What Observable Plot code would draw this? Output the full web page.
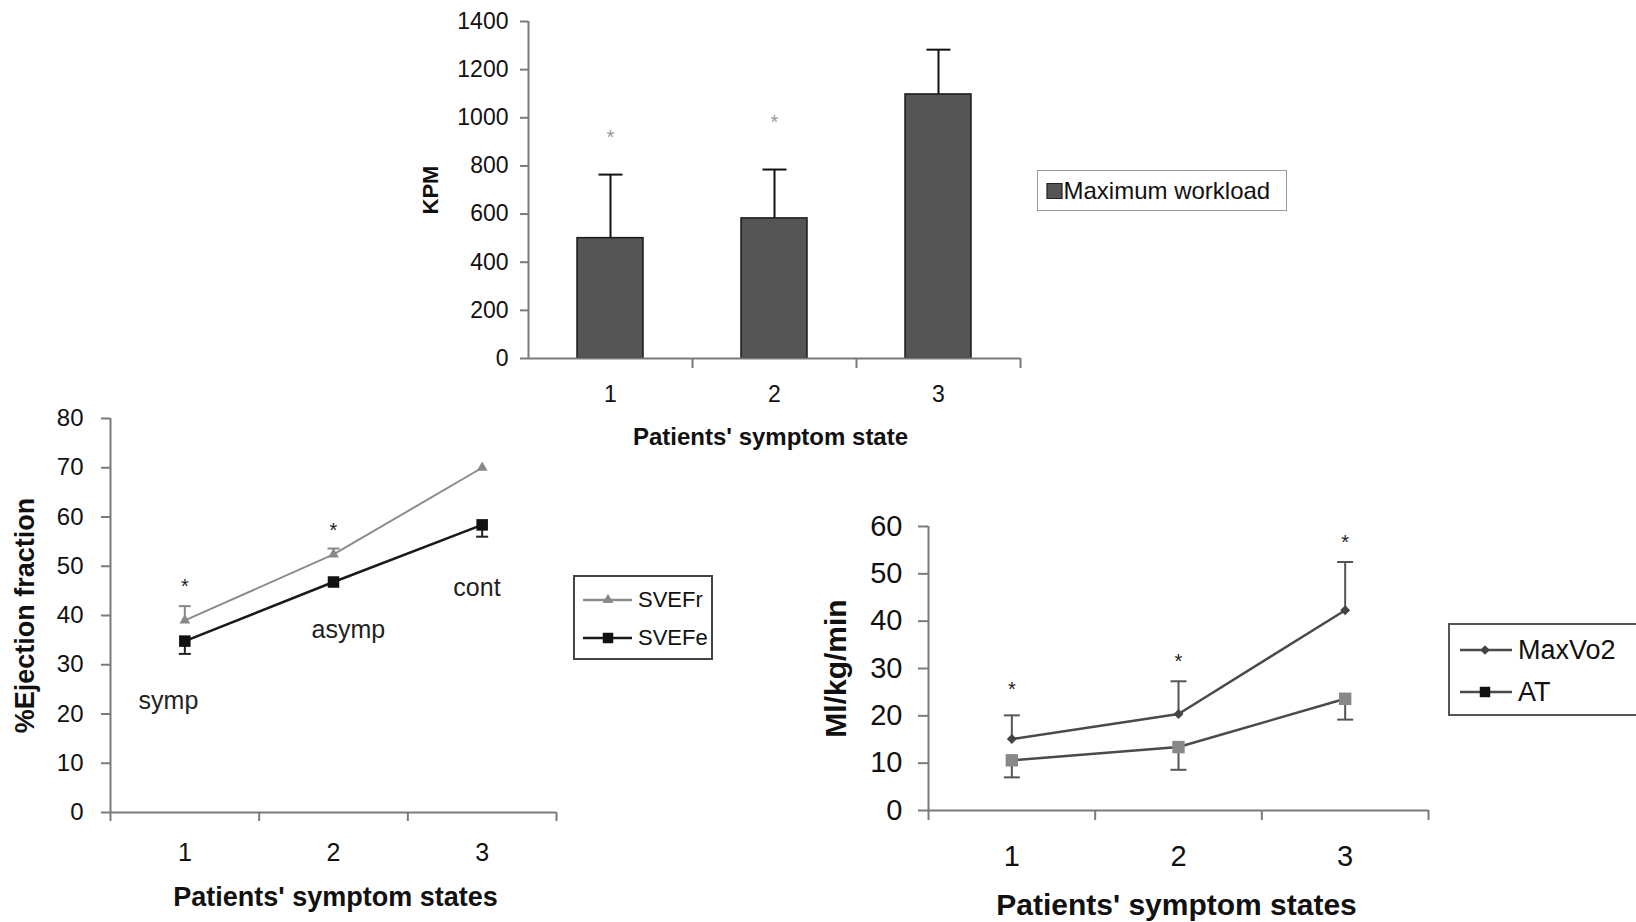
<!DOCTYPE html>
<html><head><meta charset="utf-8">
<script src="https://cdn.jsdelivr.net/npm/d3@7"></script>
<script src="https://cdn.jsdelivr.net/npm/@observablehq/plot@0.6"></script>
<style>
html,body{margin:0;padding:0;background:#fff;}
#page{position:relative;width:1636px;height:922px;overflow:hidden;font-family:'Liberation Sans',Arial,sans-serif;color:#111;background:#fff;}
.panel{position:absolute;}
.legend{position:absolute;box-sizing:border-box;background:#fff;}
.legend span{position:absolute;white-space:nowrap;line-height:1;color:#111;}
</style></head><body><div id="page"></div>
<script>
// ---------------- data ----------------
const states = [1, 2, 3];
const boundaries = [0.5, 1.5, 2.5, 3.5];

// Panel 1: maximum workload (KPM)
const workloadSeries = "Maximum workload";
const workloadMean = [500, 582, 1097];
const workloadUpper = [764, 785, 1283];
const workloadStar = [940, 1000, null];
const yTicksWorkload = [0, 200, 400, 600, 800, 1000, 1200, 1400];

// Panel 2: % ejection fraction
const efSeries = ["SVEFr", "SVEFe"];
const svefr = [39.0, 52.4, 70.0];
const svefrUpper = [41.9, 53.6, null];
const svefe = [34.8, 46.8, 58.4];
const svefeLower = [32.2, null, 56.0];
const efStar = [46.8, 58.3, null];
const efNotes = ["symp", "asymp", "cont"];
const efNoteX = [0.89, 2.10, 2.965];
const efNoteY = [22.7, 37.0, 45.5];
const yTicksEF = [0, 10, 20, 30, 40, 50, 60, 70, 80];

// Panel 3: Ml/kg/min
const vo2Series = ["MaxVo2", "AT"];
const maxvo2 = [15.1, 20.4, 42.3];
const maxvo2Upper = [20.1, 27.3, 52.5];
const at = [10.6, 13.4, 23.6];
const atLower = [7.0, 8.6, 19.2];
const vo2Star = [26.6, 32.5, 57.6];
const yTicksVO2 = [0, 10, 20, 30, 40, 50, 60];

// ---------------- helpers ----------------
const FONT = "'Liberation Sans', Arial, sans-serif";
const capSymbol = {draw(ctx, size) { const w = Math.sqrt(size / Math.PI); ctx.moveTo(-w, 0); ctx.lineTo(w, 0); }};
const fmt = d3.format("d");
const page = d3.select("#page");
function place(svg, left, top) {
  const wrap = page.append("div").attr("class", "panel").style("left", left + "px").style("top", top + "px");
  wrap.node().appendChild(svg);
}
const AXIS = "#7a7a7a";

// ---------------- panel 1 ----------------
const wData = states.map((s, i) => ({state: s, value: workloadMean[i], high: workloadUpper[i], star: workloadStar[i]}));
const p1 = Plot.plot({
  width: 660, height: 460, marginLeft: 148, marginRight: 20, marginTop: 21, marginBottom: 102,
  style: {fontFamily: FONT, background: "transparent", overflow: "visible", color: "#111"},
  x: {domain: [boundaries[0], boundaries[3]]},
  y: {domain: [0, 1400]},
  marks: [
    Plot.rectY(wData, {x1: d => d.state - 0.5, x2: d => d.state + 0.5, y: "value", insetLeft: 49, insetRight: 49, fill: "#555", stroke: "#1a1a1a", strokeWidth: 1.5}),
    Plot.ruleX(wData, {x: "state", y1: "value", y2: "high", stroke: "#111", strokeWidth: 2}),
    Plot.dot(wData, {x: "state", y: "high", symbol: capSymbol, r: 12, stroke: "#111", strokeWidth: 2, fill: "none"}),
    Plot.text(wData.filter(d => d.star != null), {x: "state", y: "star", text: () => "*", fontSize: 20, dy: 5, fill: "#999"}),
    Plot.ruleY([0], {stroke: AXIS, strokeWidth: 2}),
    Plot.ruleX([boundaries[0]], {stroke: AXIS, strokeWidth: 2}),
    Plot.axisY({ticks: yTicksWorkload, tickFormat: fmt, tickSize: 8, tickPadding: 12, fontSize: 23, stroke: AXIS, strokeWidth: 2, fill: "#111", label: null}),
    Plot.axisX({ticks: boundaries.slice(1), tickFormat: () => "", tickSize: 10, stroke: AXIS, strokeWidth: 2, label: null}),
    Plot.axisX({ticks: states, tickFormat: fmt, tickSize: 0, tickPadding: 27, fontSize: 23, fill: "#111", label: null}),
    Plot.text(["KPM"], {frameAnchor: "left", textAnchor: "middle", lineAnchor: "middle", rotate: -90, dx: -98, fontWeight: "bold", fontSize: 22, fill: "#111"}),
    Plot.text(["Patients' symptom state"], {frameAnchor: "bottom", lineAnchor: "middle", dx: -4, dy: 79, fontWeight: "bold", fontSize: 24, fill: "#111"})
  ]
});
place(p1, 380, 0);

// ---------------- panel 2 ----------------
const efData = states.map((s, i) => ({state: s, r: svefr[i], rUp: svefrUpper[i], e: svefe[i], eLo: svefeLower[i], star: efStar[i], note: efNotes[i], nx: efNoteX[i], ny: efNoteY[i]}));
const p2 = Plot.plot({
  width: 570, height: 542, marginLeft: 110, marginRight: 14, marginTop: 38, marginBottom: 110,
  style: {fontFamily: FONT, background: "transparent", overflow: "visible", color: "#111"},
  x: {domain: [boundaries[0], boundaries[3]]},
  y: {domain: [0, 80]},
  marks: [
    Plot.ruleY([0], {stroke: AXIS, strokeWidth: 2}),
    Plot.ruleX([boundaries[0]], {stroke: AXIS, strokeWidth: 2}),
    Plot.axisY({ticks: yTicksEF, tickFormat: fmt, tickSize: 9, tickPadding: 18, fontSize: 24, stroke: AXIS, strokeWidth: 2, fill: "#111", label: null}),
    Plot.axisX({ticks: boundaries, tickFormat: () => "", tickSize: 9, stroke: AXIS, strokeWidth: 2, label: null}),
    Plot.axisX({ticks: states, tickFormat: fmt, tickSize: 0, tickPadding: 31, fontSize: 25, fill: "#111", label: null}),
    Plot.ruleX(efData.filter(d => d.rUp != null), {x: "state", y1: "r", y2: "rUp", stroke: "#888", strokeWidth: 2}),
    Plot.dot(efData.filter(d => d.rUp != null), {x: "state", y: "rUp", symbol: capSymbol, r: 6, stroke: "#888", strokeWidth: 2, fill: "none"}),
    Plot.ruleX(efData.filter(d => d.eLo != null), {x: "state", y1: "e", y2: "eLo", stroke: "#222", strokeWidth: 2}),
    Plot.dot(efData.filter(d => d.eLo != null), {x: "state", y: "eLo", symbol: capSymbol, r: 6, stroke: "#222", strokeWidth: 2, fill: "none"}),
    Plot.line(efData, {x: "state", y: "r", stroke: "#8c8c8c", strokeWidth: 2}),
    Plot.line(efData, {x: "state", y: "e", stroke: "#1a1a1a", strokeWidth: 2.5}),
    Plot.dot(efData, {x: "state", y: "r", symbol: "triangle", r: 4, fill: "#888"}),
    Plot.dot(efData, {x: "state", y: "e", symbol: "square", r: 6.5, fill: "#111"}),
    Plot.text(efData.filter(d => d.star != null), {x: "state", y: "star", text: () => "*", fontSize: 20, dy: 5, fill: "#222"}),
    Plot.text(efData, {x: "nx", y: "ny", text: "note", fontSize: 25, fill: "#222"}),
    Plot.text(["%Ejection fraction"], {frameAnchor: "left", textAnchor: "middle", lineAnchor: "middle", rotate: -90, dx: -85, fontWeight: "bold", fontSize: 27, fill: "#111"}),
    Plot.text(["Patients' symptom states"], {frameAnchor: "bottom", lineAnchor: "middle", dx: 2, dy: 85, fontWeight: "bold", fontSize: 27, fill: "#111"})
  ]
});
place(p2, 0, 380);

// ---------------- panel 3 ----------------
const vData = states.map((s, i) => ({state: s, m: maxvo2[i], mUp: maxvo2Upper[i], a: at[i], aLo: atLower[i], star: vo2Star[i]}));
const p3 = Plot.plot({
  width: 660, height: 452, marginLeft: 148, marginRight: 12, marginTop: 56, marginBottom: 112,
  style: {fontFamily: FONT, background: "transparent", overflow: "visible", color: "#111"},
  x: {domain: [boundaries[0], boundaries[3]]},
  y: {domain: [0, 60]},
  marks: [
    Plot.ruleY([0], {stroke: AXIS, strokeWidth: 2}),
    Plot.ruleX([boundaries[0]], {stroke: AXIS, strokeWidth: 2}),
    Plot.axisY({ticks: yTicksVO2, tickFormat: fmt, tickSize: 10, tickPadding: 16, fontSize: 29, stroke: AXIS, strokeWidth: 2, fill: "#111", label: null}),
    Plot.axisX({ticks: boundaries, tickFormat: () => "", tickSize: 10, stroke: AXIS, strokeWidth: 2, label: null}),
    Plot.axisX({ticks: states, tickFormat: fmt, tickSize: 0, tickPadding: 35, fontSize: 29, fill: "#111", label: null}),
    Plot.ruleX(vData, {x: "state", y1: "m", y2: "mUp", stroke: "#555", strokeWidth: 2}),
    Plot.dot(vData, {x: "state", y: "mUp", symbol: capSymbol, r: 8, stroke: "#555", strokeWidth: 2, fill: "none"}),
    Plot.ruleX(vData, {x: "state", y1: "a", y2: "aLo", stroke: "#555", strokeWidth: 2}),
    Plot.dot(vData, {x: "state", y: "aLo", symbol: capSymbol, r: 8, stroke: "#555", strokeWidth: 2, fill: "none"}),
    Plot.line(vData, {x: "state", y: "m", stroke: "#4a4a4a", strokeWidth: 2.5}),
    Plot.line(vData, {x: "state", y: "a", stroke: "#4a4a4a", strokeWidth: 2.5}),
    Plot.dot(vData, {x: "state", y: "m", symbol: "diamond2", r: 4.5, fill: "#444"}),
    Plot.dot(vData, {x: "state", y: "a", symbol: "square", r: 7, fill: "#888"}),
    Plot.text(vData, {x: "state", y: "star", text: () => "*", fontSize: 20, dy: 5, fill: "#222"}),
    Plot.text(["Ml/kg/min"], {frameAnchor: "left", textAnchor: "middle", lineAnchor: "middle", rotate: -90, dx: -92, fontWeight: "bold", fontSize: 30, fill: "#111"}),
    Plot.text(["Patients' symptom states"], {frameAnchor: "bottom", lineAnchor: "middle", dx: -2, dy: 95, fontWeight: "bold", fontSize: 30, fill: "#111"})
  ]
});
place(p3, 780, 470);

// ---------------- legends ----------------
function addLegend({left, top, width, height, border, borderColor, fontSize, textLeft, rows}) {
  const div = page.append("div").attr("class", "legend")
    .style("left", left + "px").style("top", top + "px")
    .style("width", width + "px").style("height", height + "px")
    .style("border", `${border}px solid ${borderColor}`);
  const svg = div.append("svg").attr("width", width).attr("height", height)
    .style("position", "absolute").style("left", -border + "px").style("top", -border + "px");
  rows.forEach(r => {
    if (r.line) svg.append("line").attr("x1", r.line[0]).attr("x2", r.line[1]).attr("y1", r.cy).attr("y2", r.cy)
      .attr("stroke", r.lineColor).attr("stroke-width", 2.5);
    svg.append("path").attr("d", d3.symbol(r.symbol, r.size)())
      .attr("transform", `translate(${r.sx},${r.cy})`).attr("fill", r.fill)
      .attr("stroke", r.stroke || "none").attr("stroke-width", 1.2);
    div.append("span").text(r.label)
      .style("left", (textLeft - border) + "px")
      .style("top", (r.cy - border - 0.49 * fontSize) + "px")
      .style("font-size", fontSize + "px");
  });
}
addLegend({left: 1037, top: 170, width: 250, height: 41, border: 1.5, borderColor: "#999", fontSize: 24, textLeft: 27,
  rows: [{label: workloadSeries, cy: 21, sx: 17.5, symbol: d3.symbolSquare, size: 225, fill: "#555", stroke: "#222"}]});
addLegend({left: 573, top: 575, width: 140, height: 85, border: 2, borderColor: "#444", fontSize: 22, textLeft: 65,
  rows: [
    {label: efSeries[0], cy: 25, sx: 35, line: [10, 59], lineColor: "#8c8c8c", symbol: d3.symbolTriangle, size: 50, fill: "#888"},
    {label: efSeries[1], cy: 63, sx: 35, line: [10, 59], lineColor: "#1a1a1a", symbol: d3.symbolSquare, size: 110, fill: "#111"}
  ]});
addLegend({left: 1448, top: 623, width: 200, height: 93, border: 2, borderColor: "#555", fontSize: 27, textLeft: 70,
  rows: [
    {label: vo2Series[0], cy: 27, sx: 37, line: [12, 64], lineColor: "#4a4a4a", symbol: d3.symbolDiamond2, size: 60, fill: "#444"},
    {label: vo2Series[1], cy: 69, sx: 37, line: [12, 64], lineColor: "#4a4a4a", symbol: d3.symbolSquare, size: 110, fill: "#111"}
  ]});
</script></body></html>
